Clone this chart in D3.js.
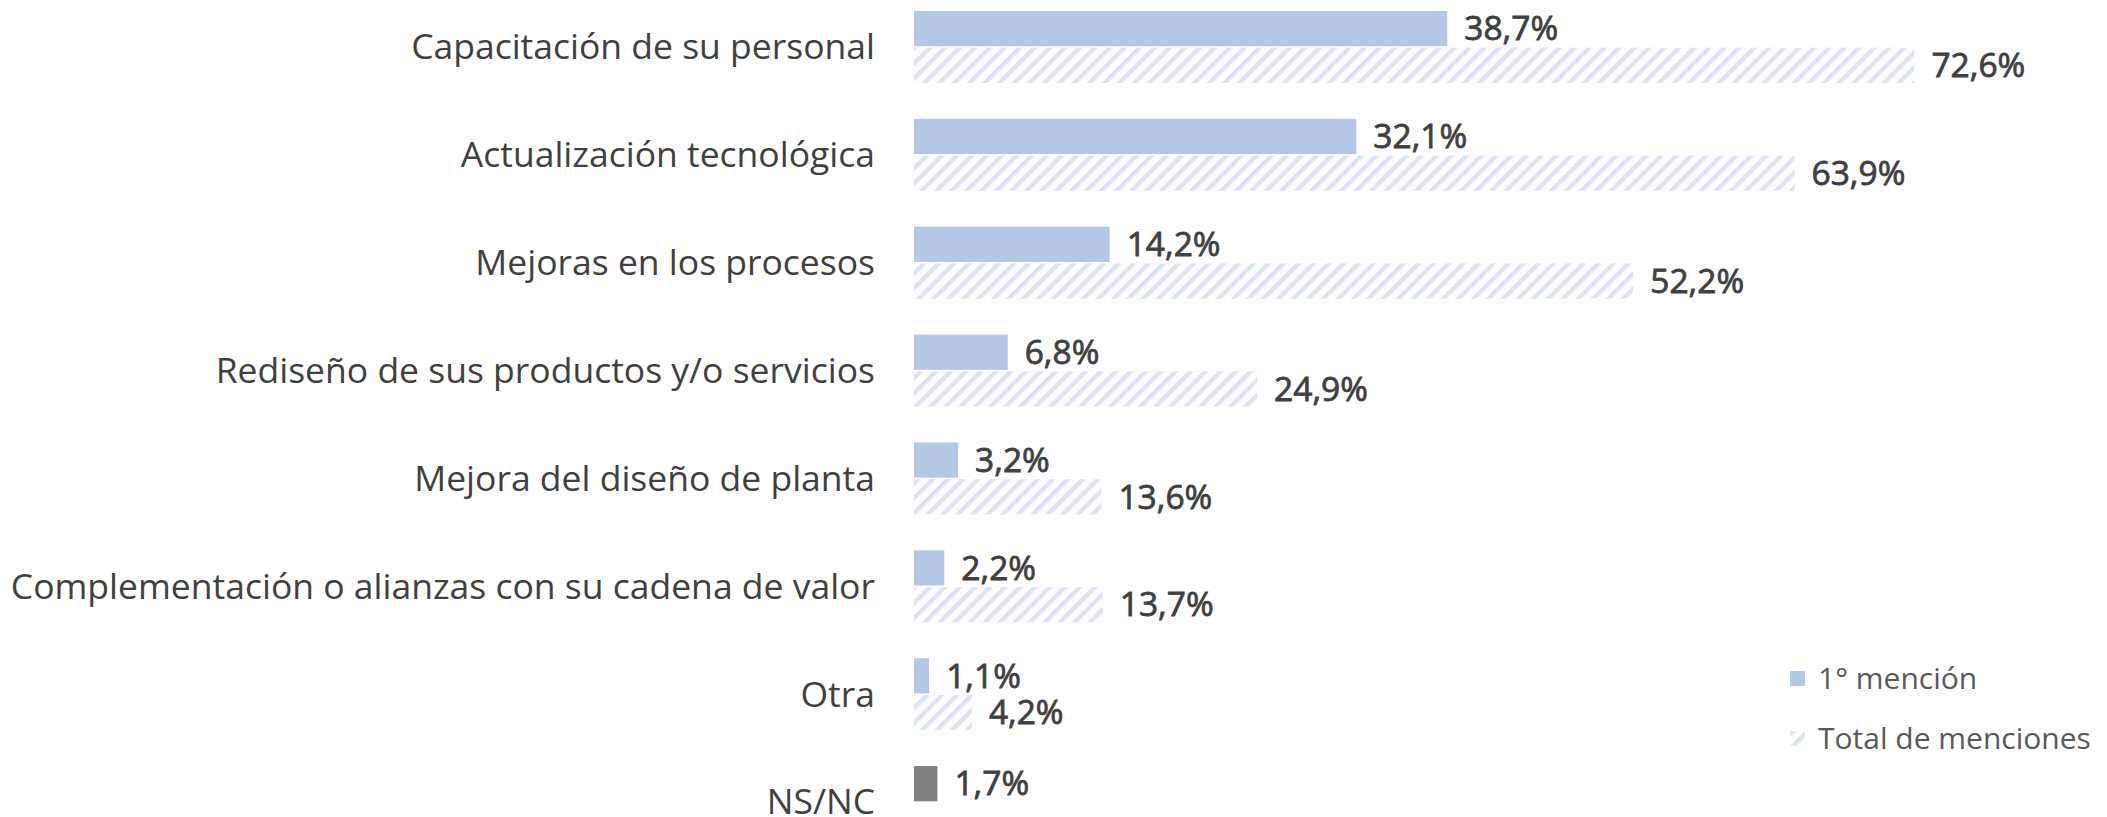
<!DOCTYPE html>
<html>
<head>
<meta charset="utf-8">
<script src="https://cdn.jsdelivr.net/npm/d3@7"></script>
<style>
  html, body { margin: 0; padding: 0; background: #fff; }
  svg { display: block; }
</style>
</head>
<body>
<div id="chart"></div>
<script>
// data
const categories = [
    "Capacitación de su personal",
    "Actualización tecnológica",
    "Mejoras en los procesos",
    "Rediseño de sus productos y/o servicios",
    "Mejora del diseño de planta",
    "Complementación o alianzas con su cadena de valor",
    "Otra",
    "NS/NC"
];
const firstMention = [38.7, 32.1, 14.2, 6.8, 3.2, 2.2, 1.1, 1.7];
const totalMentions = [72.6, 63.9, 52.2, 24.9, 13.6, 13.7, 4.2, null];
const seriesNames = ["1° mención", "Total de menciones"];

const width = 2107;
const height = 817;
const font = "'Open Sans', 'Noto Sans', sans-serif";

const svg = d3.select("#chart").append("svg")
    .attr("width", width)
    .attr("height", height)
    .attr("viewBox", `0 0 ${width} ${height}`);

const defs = svg.append("defs");
const hatch = defs.append("pattern")
    .attr("id", "hatch")
    .attr("patternUnits", "userSpaceOnUse")
    .attr("width", 10.6)
    .attr("height", 10.6)
    .attr("patternTransform", "rotate(45)");
hatch.append("rect")
    .attr("width", 10.6)
    .attr("height", 10.6)
    .attr("fill", "#fff");
hatch.append("rect")
    .attr("width", 4.4)
    .attr("height", 10.6)
    .attr("fill", "#DAE3F3");

const x = d3.scaleLinear()
    .domain([0, 80])
    .range([914, 914 + 80 * 13.78]);

const y = d3.scaleBand()
    .domain(categories)
    .range([-7, 856])
    .paddingInner(0.333)
    .paddingOuter(0.1665);

const sub = d3.scaleBand()
    .domain(seriesNames)
    .range([0, y.bandwidth()])
    .paddingInner(0.04);

const rows = categories.map((c, i) => ({
    cat: c,
    first: firstMention[i],
    total: totalMentions[i]
}));

const fmt = v => d3.format(".1f")(v).replace(".", ",") + "%";

// category labels
svg.append("g")
    .selectAll("text")
    .data(rows)
    .join("text")
    .attr("x", 875)
    .attr("y", d => y(d.cat) + y.bandwidth() / 2)
    .attr("dy", "0.35em")
    .attr("text-anchor", "end")
    .style("font-family", font)
    .style("font-size", "35.5px")
    .style("fill", "#404040")
    .text(d => d.cat);

// first mention bars
svg.append("g")
    .selectAll("rect")
    .data(rows)
    .join("rect")
    .attr("x", x(0))
    .attr("y", d => y(d.cat) + sub(seriesNames[0]))
    .attr("width", d => x(d.first) - x(0))
    .attr("height", sub.bandwidth())
    .attr("fill", d => d.cat === "NS/NC" ? "#808080" : "#B4C7E7");

// total mention bars
const withTotal = rows.filter(d => d.total != null);
svg.append("g")
    .selectAll("rect")
    .data(withTotal)
    .join("rect")
    .attr("x", x(0))
    .attr("y", d => y(d.cat) + sub(seriesNames[1]))
    .attr("width", d => x(d.total) - x(0))
    .attr("height", sub.bandwidth())
    .attr("fill", "url(#hatch)");

// value labels (slightly heavier than the category text)
const valueLabels = svg.append("g")
    .style("font-family", font)
    .style("font-size", "33.5px")
    .style("fill", "#404040")
    .style("stroke", "#404040")
    .style("stroke-width", 0.8);

valueLabels.selectAll(".v1")
    .data(rows)
    .join("text")
    .attr("class", "v1")
    .attr("x", d => x(d.first) + 17)
    .attr("y", d => y(d.cat) + sub(seriesNames[0]) + sub.bandwidth() / 2)
    .attr("dy", "0.35em")
    .text(d => fmt(d.first));

valueLabels.selectAll(".v2")
    .data(withTotal)
    .join("text")
    .attr("class", "v2")
    .attr("x", d => x(d.total) + 17)
    .attr("y", d => y(d.cat) + sub(seriesNames[1]) + sub.bandwidth() / 2)
    .attr("dy", "0.35em")
    .text(d => fmt(d.total));

// legend
const legend = svg.append("g")
    .attr("transform", "translate(1790, 671)");

const legendItems = legend.selectAll("g")
    .data(seriesNames)
    .join("g")
    .attr("transform", (d, i) => `translate(0, ${i * 60})`);

legendItems.append("rect")
    .attr("width", 15)
    .attr("height", 15)
    .attr("fill", (d, i) => i === 0 ? "#B4C7E7" : "url(#hatch)");

legendItems.append("text")
    .attr("x", 28)
    .attr("y", 7.5)
    .attr("dy", "0.35em")
    .style("font-family", font)
    .style("font-size", "30px")
    .style("fill", "#595959")
    .text(d => d);
</script>
</body>
</html>
